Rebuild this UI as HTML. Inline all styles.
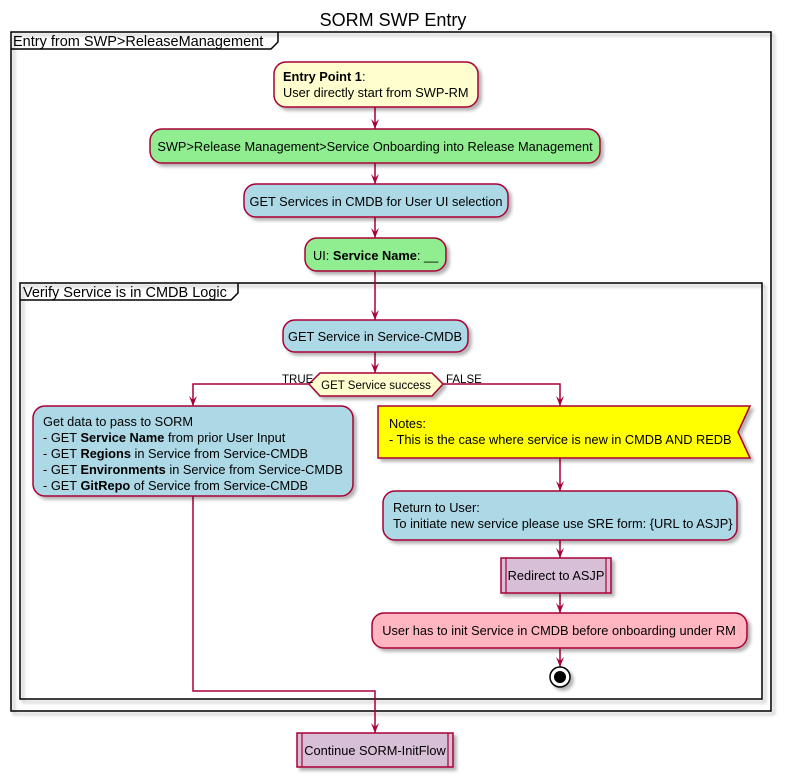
<!DOCTYPE html>
<html><head><meta charset="utf-8"><style>
html,body{margin:0;padding:0;background:#fff;}
svg{display:block;font-family:"Liberation Sans","DejaVu Sans",sans-serif;}
</style></head><body>
<svg width="787" height="782" viewBox="0 0 787 782" xmlns="http://www.w3.org/2000/svg">
<defs>
<filter id="sh" x="-10%" y="-10%" width="130%" height="140%"><feDropShadow dx="3" dy="3" stdDeviation="1.5" flood-color="#000" flood-opacity="0.3"/></filter>
</defs>
<text x="393" y="26" font-size="18" text-anchor="middle">SORM SWP Entry</text>
<rect x="11" y="32" width="760" height="679" fill="none" stroke="#000" stroke-width="1.5" filter="url(#sh)"/>
<path d="M11 49 H271 L278 42 V32" fill="none" stroke="#000" stroke-width="1.5"/>
<text x="13" y="46" font-size="14.5">Entry from SWP&gt;ReleaseManagement</text>
<rect x="20" y="283" width="742" height="416" fill="none" stroke="#000" stroke-width="1.5" filter="url(#sh)"/>
<path d="M20 300 H231 L238 293 V283" fill="none" stroke="#000" stroke-width="1.5"/>
<text x="23" y="297" font-size="14.5">Verify Service is in CMDB Logic</text>

<g stroke="#A80036" stroke-width="1.5" fill="none">
<path d="M375 107 V129 M375 163 V184 M375 217 V238 M375 271 V320 M375 352 V373"/>
<path d="M309 384 H193 V406 M443 384 H560 V406 M560 458 V491 M560 540 V558 M560 593 V613 M560 648 V667"/>
<path d="M193 496 V691 H375 V733"/>
</g>
<g fill="#A80036">
<path d="M371 119 L375 129 L379 119 L375 123Z"/>
<path d="M371 174 L375 184 L379 174 L375 178Z"/>
<path d="M371 228 L375 238 L379 228 L375 232Z"/>
<path d="M371 310 L375 320 L379 310 L375 314Z"/>
<path d="M371 363 L375 373 L379 363 L375 367Z"/>
<path d="M189 396 L193 406 L197 396 L193 400Z"/>
<path d="M556 396 L560 406 L564 396 L560 400Z"/>
<path d="M556 481 L560 491 L564 481 L560 485Z"/>
<path d="M556 548 L560 558 L564 548 L560 552Z"/>
<path d="M556 603 L560 613 L564 603 L560 607Z"/>
<path d="M556 657 L560 667 L564 657 L560 661Z"/>
<path d="M371 723 L375 733 L379 723 L375 727Z"/>
</g>

<g stroke="#A80036" stroke-width="1.5" filter="url(#sh)">
<rect x="274" y="62" width="204" height="45" rx="12" fill="#FEFECE"/>
<rect x="150" y="129" width="450" height="34" rx="12" fill="#90EE90"/>
<rect x="244" y="184" width="264" height="33" rx="12" fill="#ADD8E6"/>
<rect x="305" y="238" width="141" height="33" rx="12" fill="#90EE90"/>
<rect x="283" y="320" width="185" height="32" rx="12" fill="#ADD8E6"/>
<polygon points="309,384 320,373 432,373 443,384 432,396 320,396" fill="#FEFECE"/>
<rect x="33" y="406" width="320" height="90" rx="12" fill="#ADD8E6"/>
<polygon points="378,406 750,406 738,432 750,458 378,458" fill="#FFFF00"/>
<rect x="383" y="491" width="354" height="49" rx="12" fill="#ADD8E6"/>
<rect x="501" y="558" width="110" height="35" fill="#D8BFD8"/>
<rect x="372" y="613" width="375" height="35" rx="12" fill="#FFB6C1"/>
<rect x="297" y="733" width="156" height="34" fill="#D8BFD8"/>
<circle cx="560" cy="677" r="10" fill="#fff" stroke="#000"/>
</g>
<g stroke="#A80036" stroke-width="1.2">
<path d="M506 558 V593 M606 558 V593 M302 733 V767 M448 733 V767"/>
</g>
<circle cx="560" cy="677" r="6" fill="#000"/>

<g font-size="12.8" fill="#000">
<text x="283" y="81"><tspan font-weight="bold">Entry Point 1</tspan>:</text>
<text x="283" y="97">User directly start from SWP-RM</text>
<text x="375" y="151" text-anchor="middle">SWP&gt;Release Management&gt;Service Onboarding into Release Management</text>
<text x="376" y="206" text-anchor="middle">GET Services in CMDB for User UI selection</text>
<text x="313" y="260">UI: <tspan font-weight="bold">Service Name</tspan>: __</text>
<text x="375" y="341" text-anchor="middle">GET Service in Service-CMDB</text>
<text x="376" y="389" text-anchor="middle" font-size="11.5">GET Service success</text>
<text x="282" y="383" font-size="11.5">TRUE</text>
<text x="446" y="383" font-size="11.5">FALSE</text>
<text x="43" y="426">Get data to pass to SORM</text>
<text x="43" y="442">- GET <tspan font-weight="bold">Service Name</tspan> from prior User Input</text>
<text x="43" y="458">- GET <tspan font-weight="bold">Regions</tspan> in Service from Service-CMDB</text>
<text x="43" y="474">- GET <tspan font-weight="bold">Environments</tspan> in Service from Service-CMDB</text>
<text x="43" y="490">- GET <tspan font-weight="bold">GitRepo</tspan> of Service from Service-CMDB</text>
<text x="389" y="428">Notes:</text>
<text x="389" y="444">- This is the case where service is new in CMDB AND REDB</text>
<text x="393" y="512">Return to User:</text>
<text x="393" y="528">To initiate new service please use SRE form: {URL to ASJP}</text>
<text x="556" y="580" text-anchor="middle">Redirect to ASJP</text>
<text x="559" y="635" text-anchor="middle">User has to init Service in CMDB before onboarding under RM</text>
<text x="375" y="755" text-anchor="middle">Continue SORM-InitFlow</text>
</g>
</svg>
</body></html>
